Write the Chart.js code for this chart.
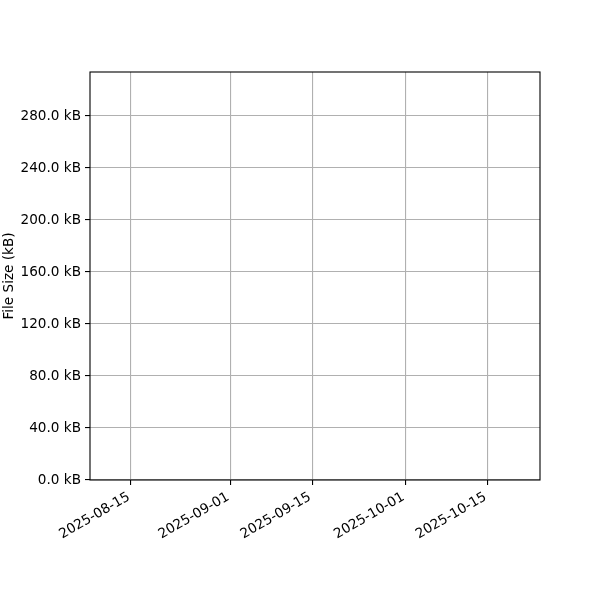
<!DOCTYPE html>
<html>
<head>
<meta charset="utf-8">
<script src="https://cdn.jsdelivr.net/npm/chart.js@4/dist/chart.umd.min.js"></script>
<style>
  html, body { margin: 0; padding: 0; background: #fff; }
  #wrap { width: 600px; height: 600px; }
</style>
</head>
<body>
<div id="wrap"><canvas id="sizeChart" width="600" height="600"></canvas></div>
<script>
// data (the reference plot has no points drawn)
const dates = [];
const fileSizes = [];
const xTickLabels = ['2025-08-15', '2025-09-01', '2025-09-15', '2025-10-01', '2025-10-15'];
const yTickValues = [0, 40, 80, 120, 160, 200, 240, 280];
const xRange = ['2025-08-08', '2025-10-24'];
const yRange = [0, 313.85];

const toMs = s => Date.parse(s + 'T00:00:00Z');
const fmtDate = ms => new Date(ms).toISOString().slice(0, 10);

const FONT = { family: 'DejaVu Sans', size: 13.6 };

// draws the full box around the plot area, like matplotlib spines
const frameBox = {
    id: 'frameBox',
    afterDraw(chart) {
        const { ctx, chartArea: a } = chart;
        ctx.save();
        ctx.strokeStyle = '#000';
        ctx.lineWidth = 1.1;
        ctx.strokeRect(a.left, a.top, a.right - a.left, a.bottom - a.top);
        ctx.restore();
    }
};

new Chart(document.getElementById('sizeChart'), {
    type: 'line',
    data: {
        datasets: [{
            label: 'File Size',
            data: dates.map((d, i) => ({ x: toMs(d), y: fileSizes[i] })),
            borderColor: '#1f77b4',
            pointRadius: 0
        }]
    },
    options: {
        responsive: false,
        animation: false,
        layout: { padding: { top: 72, right: 60, bottom: 0, left: 0 } },
        plugins: { legend: { display: false }, tooltip: { enabled: false } },
        scales: {
            x: {
                type: 'linear',
                min: toMs(xRange[0]),
                max: toMs(xRange[1]),
                afterBuildTicks: axis => {
                    axis.ticks = xTickLabels.map(s => ({ value: toMs(s) }));
                },
                afterFit: axis => { axis.height = 120; },
                grid: { color: '#b0b0b0', lineWidth: 1.1, tickColor: '#000', tickLength: 5 },
                border: { display: false },
                ticks: {
                    autoSkip: false,
                    minRotation: 30,
                    maxRotation: 30,
                    padding: 4,
                    labelOffset: -2,
                    color: '#000',
                    font: FONT,
                    callback: v => fmtDate(v)
                }
            },
            y: {
                min: yRange[0],
                max: yRange[1],
                afterBuildTicks: axis => {
                    axis.ticks = yTickValues.map(v => ({ value: v }));
                },
                afterFit: axis => { axis.width = 90; },
                grid: { color: '#b0b0b0', lineWidth: 1.1, tickColor: '#000', tickLength: 5 },
                border: { display: false },
                ticks: {
                    padding: 4,
                    color: '#000',
                    font: FONT,
                    callback: v => v.toFixed(1) + ' kB'
                },
                title: {
                    display: true,
                    text: 'File Size (kB)',
                    color: '#000',
                    font: FONT,
                    padding: { top: 1, bottom: 0 }
                }
            }
        }
    },
    plugins: [frameBox]
});
</script>
</body>
</html>
